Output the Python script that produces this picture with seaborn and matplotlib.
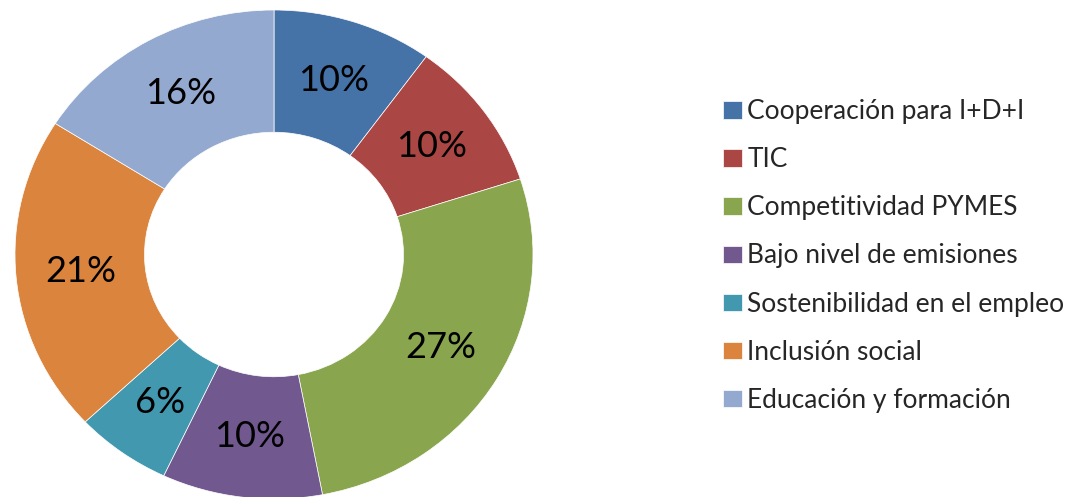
import matplotlib
matplotlib.use("Agg")
import matplotlib.pyplot as plt
import seaborn as sns

categorias = ["Cooperación para I+D+I", "TIC", "Competitividad PYMES",
              "Bajo nivel de emisiones", "Sostenibilidad en el empleo",
              "Inclusión social", "Educación y formación"]
porcentajes = [10, 10, 27, 10, 6, 21, 16]
colores = ["#4572A7", "#AA4643", "#89A54E", "#71588F", "#4198AF", "#DB843D", "#93A9CF"]

sns.set_theme(style="white")
plt.rcParams['font.family'] = ['Lato', 'DejaVu Sans']

fig = plt.figure(figsize=(10.75, 4.97), dpi=100)
# donut is slightly wider than tall in the reference
ax = fig.add_axes([15 / 1075, -2 / 497, 518 / 1075, 489 / 497])

wedges, texts, autotexts = ax.pie(
    porcentajes, colors=sns.color_palette(colores), startangle=90, counterclock=False,
    autopct='%1.0f%%', pctdistance=0.75,
    wedgeprops=dict(width=0.5, edgecolor='white', linewidth=0.5),
    textprops=dict(fontsize=26, color='black'))
ax.set_aspect('auto')
ax.set_xlim(-1, 1)
ax.set_ylim(-1, 1)
ax.axis('off')

fig.legend(wedges, categorias, loc='center left',
           bbox_to_anchor=(723 / 1075, 1 - 256 / 497), bbox_transform=fig.transFigure,
           frameon=False, fontsize=19, handlelength=0.72, handleheight=0.64,
           handletextpad=0.2, labelspacing=0.875, borderpad=0, borderaxespad=0)

fig.savefig("out.png", dpi=100)
